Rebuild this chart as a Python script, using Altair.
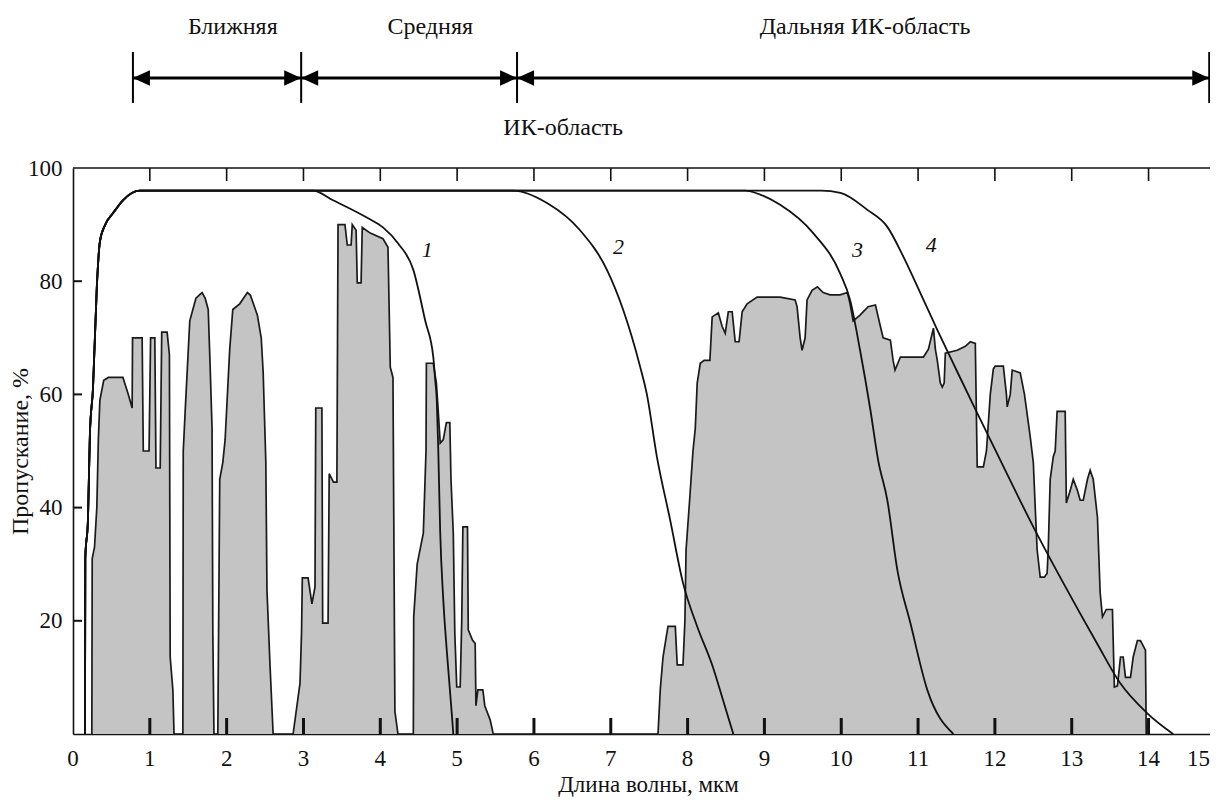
import altair as alt
import pandas as pd

SERIF = "Liberation Serif"
INK = "#111111"

# ---------------- atmospheric transmission spectrum (grey bands) ----------------
band_a_wl = [0.245, 0.25, 0.28, 0.31, 0.33, 0.35, 0.40, 0.46, 0.65, 0.72, 0.77, 0.775, 0.90, 0.915,
             0.99, 1.01, 1.065, 1.08, 1.135, 1.155, 1.225, 1.255, 1.265, 1.30, 1.315]
band_a_tr = [0, 31, 33, 40, 52, 59, 62.5, 63, 63, 60, 57.6, 70, 70, 50,
             50, 70, 70, 47, 47, 71, 71, 67, 13.6, 7.8, 0]

band_b_wl = [1.43, 1.435, 1.46, 1.52, 1.60, 1.68, 1.72, 1.76, 1.785, 1.81, 1.82, 1.835]
band_b_tr = [0, 50, 57, 73, 77, 78, 77, 75, 65, 54, 18, 0]

band_c_wl = [1.885, 1.895, 1.91, 1.95, 1.98, 2.04, 2.08, 2.17, 2.27, 2.31, 2.40, 2.45, 2.475,
             2.51, 2.525, 2.565, 2.605]
band_c_tr = [0, 18, 45, 48, 52, 68, 75, 76, 78, 77.5, 74, 70, 64,
             48, 25.4, 12, 0]

band_d_wl = [2.865, 2.955, 2.975, 2.985, 3.06, 3.11, 3.15, 3.16, 3.24, 3.25, 3.32, 3.335, 3.39,
             3.435, 3.45, 3.54, 3.57, 3.62, 3.635, 3.685, 3.70, 3.75, 3.765, 3.87, 4.035, 4.10,
             4.13, 4.165, 4.19, 4.23]
band_d_tr = [0, 9, 18, 27.6, 27.6, 23, 26, 57.6, 57.6, 19.6, 19.6, 46, 44.5,
             44.5, 90, 90, 86.4, 86.4, 90, 89, 79.7, 79.7, 89.5, 88.5, 87.5, 86,
             64.8, 63, 4, 0]

band_e_wl = [4.43, 4.435, 4.48, 4.56, 4.595, 4.60, 4.69, 4.73, 4.75, 4.78, 4.82, 4.86, 4.905,
             4.92, 4.95, 4.97, 4.995, 5.04, 5.06, 5.075, 5.135, 5.145, 5.20, 5.235, 5.245,
             5.27, 5.335, 5.36, 5.43, 5.47]
band_e_tr = [0, 20.7, 30, 35.5, 50, 65.5, 65.5, 62, 58, 51.4, 52, 55, 55,
             45, 35.5, 17.8, 8.3, 8.3, 20, 36.6, 36.6, 18.4, 16.6, 16, 5,
             7.8, 7.8, 5, 2.5, 0]

band_f_wl = [7.615, 7.645, 7.68, 7.72, 7.745, 7.84, 7.865, 7.94, 7.965, 7.98, 8.03, 8.07, 8.10,
             8.125, 8.165, 8.215, 8.29, 8.32, 8.40, 8.45, 8.49, 8.53, 8.58, 8.62, 8.67, 8.71,
             8.775, 8.905, 9.205, 9.40, 9.425, 9.465, 9.49, 9.53, 9.555, 9.62, 9.69, 9.765,
             9.855, 9.985, 10.08, 10.115, 10.155, 10.245, 10.35, 10.445, 10.51, 10.545, 10.64,
             10.675, 10.70, 10.77, 11.07, 11.135, 11.20, 11.225, 11.25, 11.29, 11.315, 11.34,
             11.355, 11.51, 11.615, 11.68, 11.745, 11.77, 11.85, 11.89, 11.915, 11.94, 11.98,
             12.005, 12.11, 12.15, 12.16, 12.20, 12.225, 12.33, 12.385, 12.435, 12.46, 12.50,
             12.525, 12.55, 12.59, 12.645, 12.68, 12.695, 12.72, 12.76, 12.785, 12.81, 12.915,
             12.93, 12.98, 13.02, 13.075, 13.11, 13.15, 13.205, 13.24, 13.28, 13.335, 13.37,
             13.40, 13.45, 13.53, 13.555, 13.595, 13.635, 13.67, 13.70, 13.765, 13.80, 13.855,
             13.895, 13.96, 13.97]
band_f_tr = [0, 8, 13.6, 17, 19, 19, 12.2, 12.2, 20, 32.5, 42, 50, 54,
             62, 65.5, 66, 66, 73.7, 74.4, 72, 70.8, 74.6, 74.6, 69.3, 69.3, 74.6,
             76, 77.2, 77.2, 76.7, 75.5, 70, 67.8, 70, 76.7, 78.4, 79, 78,
             77.6, 77.6, 78, 76, 73, 74, 75.5, 75.8, 72, 70, 69.6,
             66, 64.3, 66.6, 66.6, 68, 71.7, 68, 66, 62, 61.3, 62,
             67.3, 67.8, 68.5, 69.3, 69, 47.2, 47.2, 50, 55, 60, 64.5,
             65, 65, 60, 57.8, 60, 64.3, 63.8, 60, 55, 52.5, 48,
             40, 32.5, 27.7, 27.7, 28.4, 33, 45, 49, 50, 57, 57,
             40.8, 43, 45, 43, 41.3, 41.3, 45, 46.6, 45, 38.3, 25,
             20.7, 22, 22, 8.3, 8.5, 13.6, 13.6, 10, 10, 13.6, 16.5,
             16.5, 14.8, 0]

# ---------------- curves 1-4 (common rise + plateau, then individual fall) ----------------
rise_wl = [0.156, 0.16, 0.195, 0.22, 0.26, 0.31, 0.35, 0.42, 0.52, 0.65, 0.87]
rise_tr = [0, 31, 38, 53, 61, 79, 87, 90, 92, 94.3, 96]

c1_wl = [3.125, 3.385, 3.83, 4.035, 4.23, 4.43, 4.585, 4.69, 4.715, 4.735, 4.755, 4.78, 4.82, 4.865, 4.93, 4.95]
c1_tr = [96, 94.3, 91.2, 89.5, 86.7, 82, 73, 66.6, 62.5, 59, 50, 35.5, 23.7, 14.8, 3.7, 0]

c2_wl = [5.73, 6.17, 6.60, 6.95, 7.16, 7.38, 7.47, 7.60, 7.77, 7.94, 8.125, 8.33, 8.45, 8.595]
c2_tr = [96, 93.8, 89, 82, 75, 65, 60, 49, 38, 26.7, 19, 11.8, 6.5, 0]

c3_wl = [8.75, 8.945, 9.205, 9.635, 9.985, 10.115, 10.245, 10.38, 10.48, 10.60, 10.73, 10.90, 11.12, 11.46]
c3_tr = [96, 95.3, 93.5, 88.5, 81.4, 76.7, 67.8, 57.2, 48.4, 41.3, 29, 19.6, 7.8, 0]

c4_wl = [9.74, 9.99, 10.34, 10.60, 10.81, 11.03, 11.25, 11.51, 11.77, 12.07, 12.50, 12.89, 13.33, 13.63, 13.98, 14.32]
c4_tr = [96, 95.6, 92.6, 89.6, 84.3, 77.9, 71.4, 64, 56.7, 48.4, 36.6, 26.7, 16, 9, 3.7, 0]

curve_names = ["1", "2", "3", "4"]
curve_label_wl = [4.61, 7.10, 10.21, 11.17]
curve_label_tr = [85.5, 86.0, 85.5, 86.4]

# ---------------- axes / annotation values ----------------
x_label_values = [0, 1, 2, 3, 4, 5, 6, 7, 8, 9, 10, 11, 12, 13, 14, 14.65]
x_label_texts = ["0", "1", "2", "3", "4", "5", "6", "7", "8", "9", "10", "11", "12", "13", "14", "15"]
x_tick_values = [1, 2, 3, 4, 5, 6, 7, 8, 9, 10, 11, 12, 13, 14]
y_values = [20, 40, 60, 80, 100]

region_bounds = [0.78, 2.97, 5.78, 14.79]
region_names = ["Ближняя", "Средняя", "Дальняя ИК-область"]
region_name_wl = [2.08, 4.65, 10.31]
region_note = "ИК-область"
region_note_wl = 6.38
arrow_tr = 115.9
bar_top_tr = 120.5
bar_bottom_tr = 111.5
region_name_tr = 124.9
region_note_tr = 107.1

# ---------------- build tables ----------------
bands = [(band_a_wl, band_a_tr), (band_b_wl, band_b_tr), (band_c_wl, band_c_tr),
         (band_d_wl, band_d_tr), (band_e_wl, band_e_tr), (band_f_wl, band_f_tr)]
spec_rows = []
for wls, trs in bands:
    for w, t in zip(wls, trs):
        spec_rows.append({"wl": w, "tr": t})
spec_df = pd.DataFrame(spec_rows).sort_values("wl").reset_index(drop=True)

curve_rows = []
for name, (cw, ct) in zip(curve_names, [(c1_wl, c1_tr), (c2_wl, c2_tr), (c3_wl, c3_tr), (c4_wl, c4_tr)]):
    i = 0
    for w, t in zip(rise_wl + cw, rise_tr + ct):
        curve_rows.append({"curve": name, "i": i, "wl": w, "tr": t})
        i += 1
curve_df = pd.DataFrame(curve_rows)

label_df = pd.DataFrame({"wl": curve_label_wl, "tr": curve_label_tr, "txt": curve_names})
xlab_df = pd.DataFrame({"wl": x_label_values, "txt": x_label_texts})
xtick_df = pd.DataFrame({"wl": x_tick_values})
ytick_df = pd.DataFrame({"tr": y_values[:-1]})
frame_df = pd.DataFrame({"wl": [0.0], "wl2": [14.8], "tr": [100.0]})

arrow_df = pd.DataFrame({"wl": [region_bounds[0]], "wl2": [region_bounds[-1]], "tr": [arrow_tr]})
bars_df = pd.DataFrame({"wl": region_bounds, "tr": [bar_top_tr] * 4, "tr2": [bar_bottom_tr] * 4})
head_left_df = pd.DataFrame({"wl": region_bounds[:-1], "tr": [arrow_tr] * 3})
head_right_df = pd.DataFrame({"wl": region_bounds[1:], "tr": [arrow_tr] * 3})
names_df = pd.DataFrame({"wl": region_name_wl + [region_note_wl],
                         "tr": [region_name_tr] * 3 + [region_note_tr],
                         "txt": region_names + [region_note]})

# ---------------- scales & axes ----------------
xs = alt.Scale(domain=[0, 14.8], nice=False, zero=False)
ys = alt.Scale(domain=[0, 100], nice=False, zero=False)

x_axis = alt.Axis(values=x_tick_values, labels=False, ticks=False, tickSize=0, grid=False,
                  domainColor=INK, domainWidth=1.6,
                  title="Длина волны, мкм", titleFont=SERIF, titleFontSize=23,
                  titleFontWeight="normal", titleColor=INK,
                  titleX=575, titleY=57, titleBaseline="alphabetic", titleAlign="center")
y_axis = alt.Axis(values=y_values, format="d", ticks=False, tickSize=0, grid=False,
                  domainColor=INK, domainWidth=1.6,
                  labelFont=SERIF, labelFontSize=23, labelColor=INK, labelPadding=11,
                  title="Пропускание, %", titleFont=SERIF, titleFontSize=24,
                  titleFontWeight="normal", titleColor=INK,
                  titleX=-53, titleY=283, titleAngle=270,
                  titleBaseline="middle", titleAlign="center")

X = alt.X("wl:Q", scale=xs, axis=x_axis)
Y = alt.Y("tr:Q", scale=ys, axis=y_axis, stack=None)

area = alt.Chart(spec_df).mark_area(color="#c4c4c4", interpolate="linear").encode(x=X, y=Y)
outline = alt.Chart(spec_df).mark_line(color="#1a1a1a", strokeWidth=1.7,
                                       interpolate="linear").encode(x=X, y=Y)
curves = alt.Chart(curve_df).mark_line(color=INK, strokeWidth=1.8, interpolate="monotone").encode(
    x=X, y=Y, detail="curve:N", order="i:Q")
frame = alt.Chart(frame_df).mark_rule(color=INK, strokeWidth=1.6).encode(
    x=X, x2="wl2:Q", y=Y)
bottom_ticks = alt.Chart(xtick_df).mark_rule(color=INK, strokeWidth=3).encode(
    x=X, y=alt.value(566), y2=alt.value(550))
top_ticks = alt.Chart(xtick_df).mark_rule(color=INK, strokeWidth=1.6).encode(
    x=X, y=alt.value(0), y2=alt.value(13))
left_ticks = alt.Chart(ytick_df).mark_rule(color=INK, strokeWidth=2).encode(
    y=Y, x=alt.value(0), x2=alt.value(9))
x_labels = alt.Chart(xlab_df).mark_text(font=SERIF, fontSize=23, color=INK, align="center",
                                        baseline="alphabetic").encode(
    x=X, y=alt.value(598), text="txt:N")
curve_labels = alt.Chart(label_df).mark_text(font=SERIF, fontSize=22, fontStyle="italic",
                                             color=INK, align="center",
                                             baseline="middle").encode(x=X, y=Y, text="txt:N")

arrow_line = alt.Chart(arrow_df).mark_rule(color="#000000", strokeWidth=3).encode(
    x=X, x2="wl2:Q", y=Y)
bars = alt.Chart(bars_df).mark_rule(color="#000000", strokeWidth=2).encode(
    x=X, y=Y, y2="tr2:Q")
head_left = alt.Chart(head_left_df).mark_point(
    shape="M0,0 L2,-0.9 L2,0.9 Z", size=289, filled=True, color="#000000",
    opacity=1, strokeWidth=0).encode(x=X, y=Y)
head_right = alt.Chart(head_right_df).mark_point(
    shape="M0,0 L-2,-0.9 L-2,0.9 Z", size=289, filled=True, color="#000000",
    opacity=1, strokeWidth=0).encode(x=X, y=Y)
region_text = alt.Chart(names_df).mark_text(font=SERIF, fontSize=24, color=INK,
                                            align="center", baseline="middle").encode(
    x=X, y=Y, text="txt:N")

chart = alt.layer(
    area, outline, curves, frame, bottom_ticks, top_ticks, left_ticks, x_labels, curve_labels,
    arrow_line, bars, head_left, head_right, region_text
).properties(
    width=1137, height=566,
    padding={"left": 65, "top": 160, "right": 0, "bottom": 63},
    autosize=alt.AutoSizeParams(type="none"),
    background="white",
).configure_view(stroke=None)

chart.save("out.html", embed_options={"renderer": "svg", "actions": False})
